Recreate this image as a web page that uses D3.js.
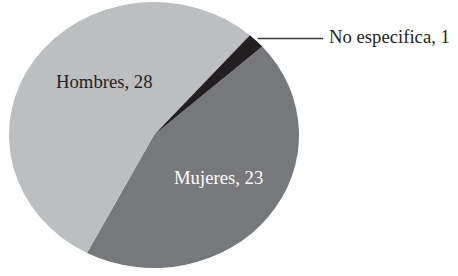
<!DOCTYPE html>
<html>
<head>
<meta charset="utf-8">
<script src="https://cdn.jsdelivr.net/npm/d3@7"></script>
<style>
  html, body { margin: 0; padding: 0; background: #fff; }
  text { font-family: "Liberation Serif", "DejaVu Serif", serif; }
</style>
</head>
<body>
<svg id="chart" width="458" height="276"></svg>
<script>
(function(d3) {
    'use strict';

    // data
    var categories = ['Mujeres', 'Hombres', 'No especifica'];
    var values = [23, 28, 1];

    var colors = ['#77787b', '#bdbec0', '#231f20'];
    var textColors = ['#ffffff', '#231f20', '#231f20'];

    // layout
    var cx = 154, cy = 135, rx = 145, ry = 133;
    var start = 48.3 * Math.PI / 180;
    var labelPos = [ [174, 184], [56, 88], [329, 43] ];

    var svg = d3.select('#chart');

    var pie = d3.pie()
        .sort(null)
        .value(function(d) { return d; })
        .startAngle(start)
        .endAngle(start + 2 * Math.PI);

    var arc = d3.arc().innerRadius(0).outerRadius(rx);

    var g = svg.append('g')
        .attr('transform', 'translate(' + cx + ',' + cy + ') scale(1,' + (ry / rx) + ')');

    var arcs = pie(values);

    g.selectAll('path')
        .data(arcs)
        .enter()
        .append('path')
        .attr('d', arc)
        .attr('fill', function(d, i) { return colors[i]; });

    // leader line for the small slice, from its outer edge
    var small = arcs[2];
    var mid = (small.startAngle + small.endAngle) / 2;
    var ex = cx + Math.sin(mid) * rx * 0.995;
    var ey = cy - Math.cos(mid) * ry * 0.995;
    svg.append('line')
        .attr('x1', ex + 2).attr('y1', 38.5)
        .attr('x2', 323).attr('y2', 38.5)
        .attr('stroke', '#3a3a3a')
        .attr('stroke-width', 1.3);

    svg.selectAll('text.lbl')
        .data(arcs)
        .enter()
        .append('text')
        .attr('class', 'lbl')
        .attr('x', function(d, i) { return labelPos[i][0]; })
        .attr('y', function(d, i) { return labelPos[i][1]; })
        .attr('font-size', '18.7px')
        .attr('fill', function(d, i) { return textColors[i]; })
        .text(function(d, i) { return categories[i] + ', ' + values[i]; });

}(window.d3));
</script>
</body>
</html>
